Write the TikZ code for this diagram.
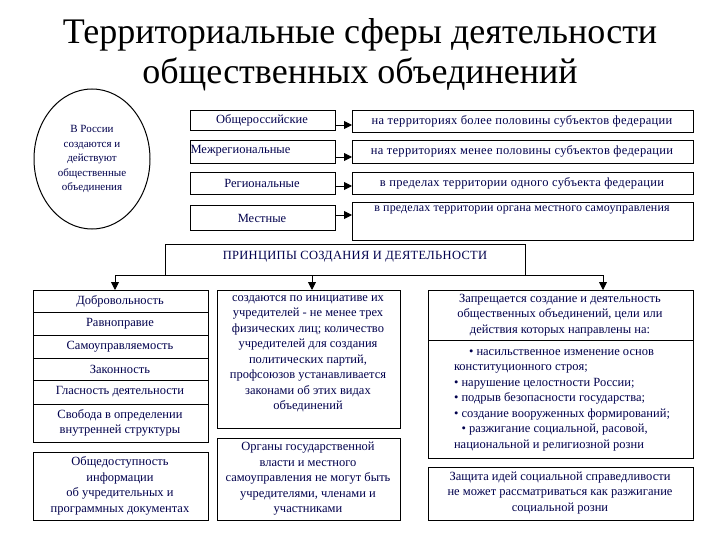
\documentclass[tikz,border=0pt]{standalone}
\usepackage{fontspec}
\setmainfont{Liberation Serif}
\usetikzlibrary{shapes.geometric,arrows.meta}
\begin{document}
\begin{tikzpicture}[x=1pt,y=-1pt,
 tx/.style={font=\fontsize{12.5}{15.5}\selectfont,text=blue!30!black,align=center},
 wx/.style={tx,font=\fontsize{12.5}{14}\selectfont\addfontfeatures{LetterSpace=2.5}},
 ar/.style={-{Triangle[length=8pt,width=8pt]},line width=0.9pt}]
\useasboundingbox (0,0) rectangle (720,540);
\node (title) at (360,55) [align=center,font=\fontsize{36}{40}\selectfont] {Территориальные сферы деятельности\\общественных объединений};
\node (ell) [ellipse,draw,line width=1pt,minimum width=116pt,minimum height=140pt,tx,font=\fontsize{11}{14.5}\selectfont] at (92,159) {В России\\создаются и\\действуют\\общественные\\объединения};
\draw[line width=0.7pt] (190,110) rectangle (335,130) (190,140) rectangle (335,163) (190,172) rectangle (335,194) (190,205) rectangle (335,230);
\node (a1) [tx] at (262,120) {Общероссийские};
\node (a2) [tx,anchor=west] at (187,151) {Межрегиональные};
\node (a3) [tx] at (262,183) {Региональные};
\node (a4) [tx] at (262,218) {Местные};
\draw[line width=0.7pt] (352,110) rectangle (693,132) (352,140) rectangle (693,163) (352,172) rectangle (693,194) (352,202) rectangle (693,240);
\node (b1) [wx] at (522,121) {на территориях более половины субъектов федерации};
\node (b2) [wx] at (522,151) {на территориях менее половины субъектов федерации};
\node (b3) [wx] at (522,183) {в пределах территории одного субъекта федерации};
\node (b4) [wx,anchor=north,font=\fontsize{12}{14}\selectfont\addfontfeatures{LetterSpace=1}] at (522,202) {в пределах территории органа местного самоуправления};
\coordinate (a1e) at (335,125); \coordinate (b1w) at (352,125);
\coordinate (a2e) at (335,157); \coordinate (b2w) at (352,157);
\coordinate (a3e) at (335,186); \coordinate (b3w) at (352,186);
\coordinate (a4e) at (335,215); \coordinate (b4w) at (352,215);
\foreach \i in {1,...,4}{\draw[ar] (a\i e) -- (b\i w);}
\draw[line width=0.7pt] (165,244) rectangle (525,275);
\node (pr) [wx] at (355,257) {ПРИНЦИПЫ СОЗДАНИЯ И ДЕЯТЕЛЬНОСТИ};
\coordinate (pl) at (115,275); \coordinate (pr2) at (603,275); \coordinate (pm) at (312,275);
\draw[line width=0.9pt] (pl) -- (pr2);
\coordinate (dl) at (115,290); \coordinate (dm) at (312,290); \coordinate (dr) at (603,290);
\draw[ar] (pl) -- (dl); \draw[ar] (pm) -- (dm); \draw[ar] (pr2) -- (dr);
\draw[line width=0.7pt] (33,290) rectangle (208,442);
\foreach \y in {312,335,358,380,404}{\draw[line width=0.7pt] (33,\y) -- (208,\y);}
\node[tx] (l1) at (120,301) {Добровольность};
\node[tx] (l2) at (120,323.5) {Равноправие};
\node[tx] (l3) at (120,346.5) {Самоуправляемость};
\node[tx] (l4) at (120,369) {Законность};
\node[tx] (l5) at (120,392) {Гласность деятельности};
\node[tx] (l6) at (120,423) {Свобода в определении\\внутренней структуры};
\draw[line width=0.7pt] (33,452) rectangle (208,520);
\node[tx] (l7) at (120,486) {Общедоступность\\информации\\об учредительных и\\программных документах};
\draw[line width=0.7pt] (217,290) rectangle (400,428);
\node[tx,anchor=north] (m1) at (308,292) {создаются по инициативе их\\учредителей - не менее трех\\физических лиц; количество\\учредителей для создания\\политических партий,\\профсоюзов устанавливается\\законами об этих видах\\объединений};
\draw[line width=0.7pt] (217,438) rectangle (400,520);
\node[tx] (m2) at (308,479) {Органы государственной\\власти и местного\\самоуправления не могут быть\\учредителями, членами и\\участниками};
\draw[line width=0.7pt] (428,290) rectangle (693,458);
\draw[line width=0.7pt] (428,340) -- (693,340);
\node[tx] (r1) at (560,315) {Запрещается создание и деятельность\\общественных объединений, цели или\\действия которых направлены на:};
\node[tx,align=left] (r2) at (562,400) {\hspace*{1.2em}• насильственное изменение основ\\конституционного строя;\\• нарушение целостности России;\\• подрыв безопасности государства;\\• создание вооруженных формирований;\\\hspace*{0.6em}• разжигание социальной, расовой,\\национальной и религиозной розни};
\draw[line width=0.7pt] (428,467) rectangle (693,520);
\node[tx] (r3) at (560,493) {Защита идей социальной справедливости\\не может рассматриваться как разжигание\\социальной розни};
\end{tikzpicture}
\end{document}
